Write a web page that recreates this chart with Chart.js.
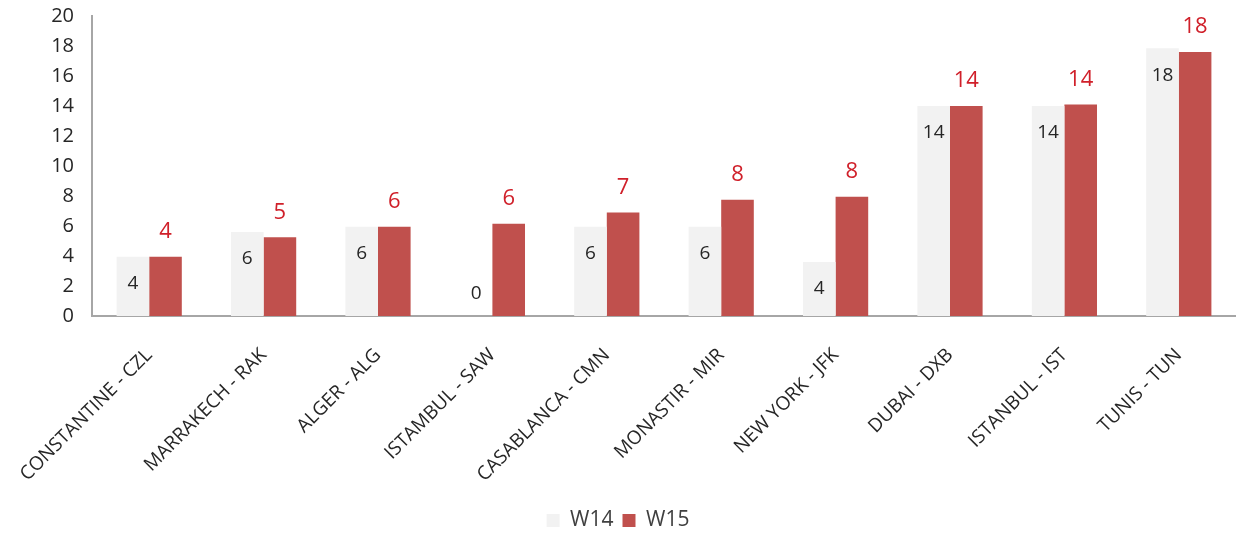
<!DOCTYPE html>
<html>
<head>
<meta charset="utf-8">
<script src="https://cdn.jsdelivr.net/npm/chart.js@4"></script>
<style>
  html, body { margin: 0; padding: 0; background: #fff; }
  #wrap { width: 1236px; height: 541px; position: relative; }
</style>
</head>
<body>
<div id="wrap"><canvas id="grafico"></canvas></div>
<script>
// Datos del grafico
const rutas = ['CONSTANTINE - CZL', 'MARRAKECH - RAK', 'ALGER - ALG', 'ISTAMBUL - SAW', 'CASABLANCA - CMN',
    'MONASTIR - MIR', 'NEW YORK - JFK', 'DUBAI - DXB', 'ISTANBUL - IST', 'TUNIS - TUN'];
const w14 = [3.95, 5.6, 5.95, 0, 5.95, 5.95, 3.6, 14.0, 14.0, 17.85];
const w15 = [3.95, 5.25, 5.95, 6.15, 6.9, 7.75, 7.95, 14.0, 14.1, 17.6];
const ticksY = [0, 2, 4, 6, 8, 10, 12, 14, 16, 18, 20];

const fuente = "'Open Sans', 'DejaVu Sans', sans-serif";

// Plugin para dibujar las etiquetas de valores
const etiquetas = {
    id: 'etiquetas',
    afterDatasetsDraw(chart) {
        const ctx = chart.ctx;
        ctx.save();
        ctx.textAlign = 'center';
        ctx.textBaseline = 'middle';
        chart.data.datasets.forEach((ds, i) => {
            const meta = chart.getDatasetMeta(i);
            meta.data.forEach((bar, j) => {
                const v = ds.data[j];
                const txt = String(Math.round(v));
                if (i === 0) {
                    ctx.font = '19px ' + fuente;
                    ctx.fillStyle = '#262626';
                    const y = v === 0 ? bar.base - 22 : bar.y + 27;
                    ctx.fillText(txt, bar.x, y);
                } else {
                    ctx.font = '22px ' + fuente;
                    ctx.fillStyle = '#D0202A';
                    ctx.fillText(txt, bar.x, bar.y - 25);
                }
            });
        });
        ctx.restore();
    }
};

const ctx = document.getElementById('grafico').getContext('2d');
new Chart(ctx, {
    type: 'bar',
    data: {
        labels: rutas,
        datasets: [
            { label: 'W14', data: w14, backgroundColor: '#F2F2F2', borderWidth: 0 },
            { label: 'W15', data: w15, backgroundColor: '#C0504D', borderColor: '#C0504D', borderWidth: 0 }
        ]
    },
    options: {
        responsive: true,
        maintainAspectRatio: false,
        animation: false,
        categoryPercentage: 0.57,
        barPercentage: 1.0,
        layout: { padding: { top: 16, right: 0, left: 0, bottom: 0 } },
        plugins: {
            legend: {
                position: 'bottom',
                labels: {
                    boxWidth: 13,
                    boxHeight: 13,
                    padding: 9,
                    color: '#404040',
                    font: { family: fuente, size: 21 }
                }
            },
            tooltip: { enabled: false }
        },
        scales: {
            x: {
                grid: { display: false, drawTicks: false },
                border: { color: '#A6A6A6', width: 2 },
                ticks: {
                    maxRotation: 45,
                    minRotation: 45,
                    autoSkip: false,
                    padding: 28,
                    color: '#262626',
                    font: { family: fuente, size: 19 }
                },
                afterFit: (scale) => {
                    scale.height = 185;
                    scale.paddingLeft = 0;
                    scale.paddingRight = 0;
                }
            },
            y: {
                min: 0,
                max: 20,
                afterBuildTicks: (scale) => { scale.ticks = ticksY.map(v => ({ value: v })); },
                grid: { display: false, drawTicks: false },
                border: { color: '#A6A6A6', width: 2 },
                ticks: {
                    padding: 18,
                    color: '#262626',
                    font: { family: fuente, size: 20 }
                },
                afterFit: (scale) => {
                    scale.width = 92;
                    scale.paddingTop = 0;
                    scale.paddingBottom = 0;
                }
            }
        }
    },
    plugins: [etiquetas]
});
</script>
</body>
</html>
